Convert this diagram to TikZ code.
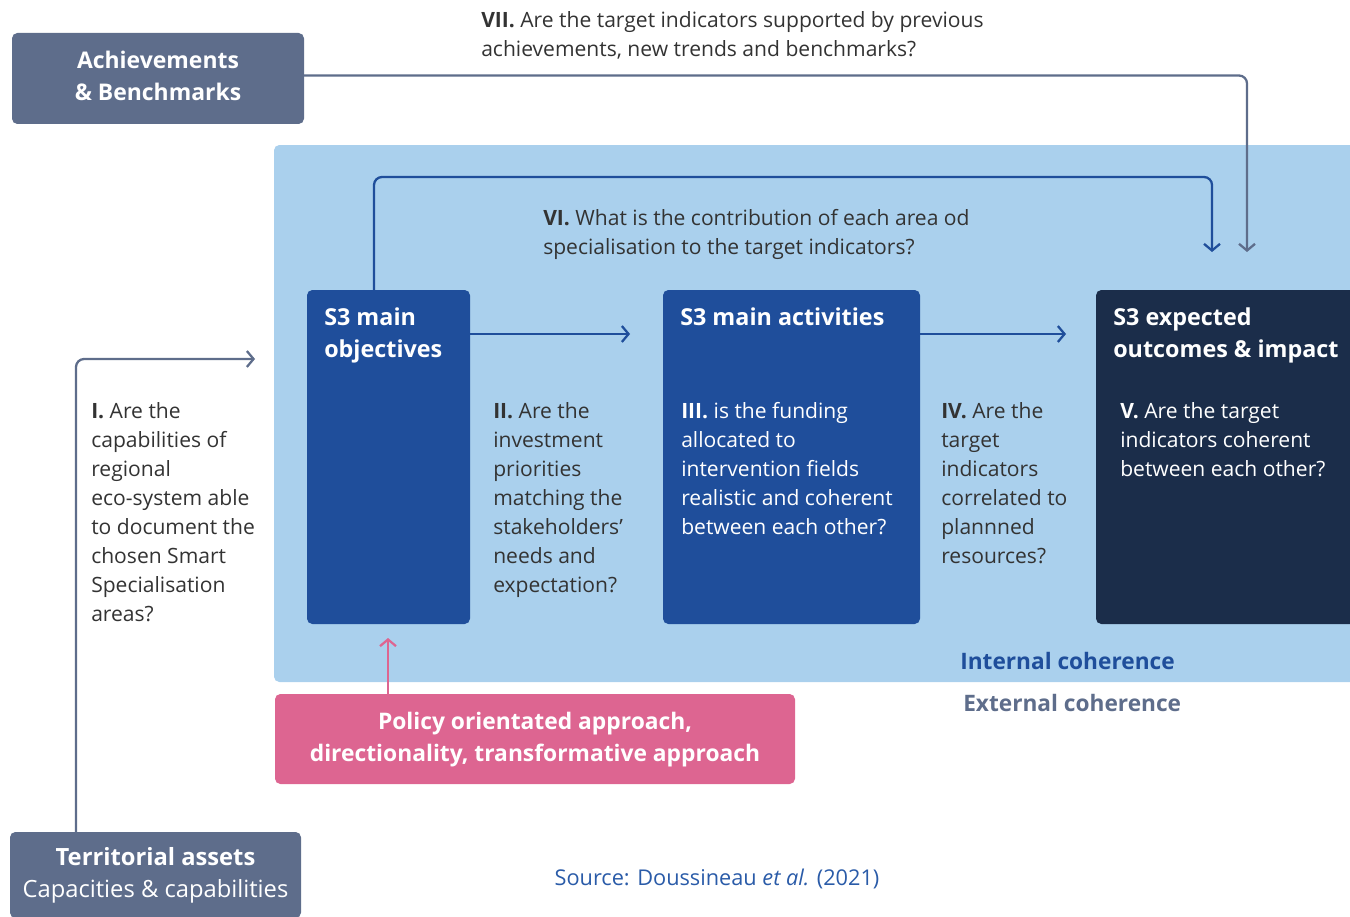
\documentclass[tikz,border=0pt]{standalone}
\usepackage{fontspec}
\setmainfont{Open Sans}
\usetikzlibrary{arrows.meta}
\definecolor{slate}{HTML}{5E6D8B}
\definecolor{lightbg}{HTML}{AAD0ED}
\definecolor{midblue}{HTML}{1F4E9B}
\definecolor{navy}{HTML}{1B2D4A}
\definecolor{pinkc}{HTML}{DD6591}
\definecolor{bodytxt}{HTML}{333333}
\definecolor{srcblue}{HTML}{2A5BA8}
\newcommand{\lines}[1]{\begin{tabular}[t]{@{}l@{}}#1\end{tabular}}
\newcommand{\clines}[1]{\begin{tabular}{@{}c@{}}#1\end{tabular}}
\tikzset{
  box/.style={anchor=north west, inner sep=0pt, outer sep=0pt, rounded corners=4pt},
  body/.style={anchor=base west, inner sep=0pt, text=bodytxt, font=\fontsize{15.8}{21.75}\selectfont},
  wbody/.style={body, text=white},
  title/.style={anchor=base west, inner sep=0pt, text=white, font=\fontsize{17.5}{24}\selectfont\bfseries},
  conn/.style={line width=1.7pt, rounded corners=6pt, -{Straight Barb[length=5pt,width=12pt]}},
}
\begin{document}
\begin{tikzpicture}[x=0.75pt,y=-0.75pt]
\useasboundingbox (0,0) rectangle (1350,917);
% background
\fill[lightbg, rounded corners=4pt] (274,145) rectangle (1380,682);
% boxes
\node[box, fill=slate, minimum width=219pt, minimum height=68.25pt, text=white,
      font=\fontsize{17.2}{24}\selectfont\bfseries] (ach) at (12,33)
      {\clines{Achievements\\\& Benchmarks}};
\node[box, fill=midblue, minimum width=122.25pt, minimum height=250.5pt] (obj) at (307,290) {};
\node[box, fill=midblue, minimum width=192.75pt, minimum height=250.5pt] (act) at (663,290) {};
\node[box, fill=navy, minimum width=210pt, minimum height=250.5pt] (out) at (1096,290) {};
\node[box, fill=pinkc, minimum width=390pt, minimum height=67.5pt, text=white,
      font=\fontsize{17.1}{24}\selectfont\bfseries] (pol) at (275,694)
      {\clines{Policy orientated approach,\\directionality, transformative approach}};
\node[box, fill=slate, minimum width=218.25pt, minimum height=64.5pt, text=white,
      font=\fontsize{17.8}{24}\selectfont] (ter) at (10,832)
      {\clines{\textbf{Territorial assets}\\Capacities \& capabilities}};
% titles
\node[title] (tobj) at (324,325) {\lines{S3 main\\objectives}};
\node[title] (tact) at (680,325) {\lines{S3 main activities}};
\node[title] (tout) at (1113,325) {\lines{S3 expected\\outcomes \& impact}};
% questions
\node[body] (q7) at (481,28) {\lines{\textbf{VII.} Are the target indicators supported by previous\\achievements, new trends and benchmarks?}};
\node[body] (q6) at (543,225) {\lines{\textbf{VI.} What is the contribution of each area od\\specialisation to the target indicators?}};
\node[body] (q1) at (91,418) {\lines{\textbf{I.} Are the\\capabilities of\\regional\\eco-system able\\to document the\\chosen Smart\\Specialisation\\areas?}};
\node[body] (q2) at (493,418) {\lines{\textbf{II.} Are the\\investment\\priorities\\matching the\\stakeholders’\\needs and\\expectation?}};
\node[wbody] (q3) at (681,418) {\lines{\textbf{III.} is the funding\\allocated to\\intervention fields\\realistic and coherent\\between each other?}};
\node[body] (q4) at (941,418) {\lines{\textbf{IV.} Are the\\target\\indicators\\correlated to\\plannned\\resources?}};
\node[wbody] (q5) at (1120,418) {\lines{\textbf{V.} Are the target\\indicators coherent\\between each other?}};
% coherence labels
\node[anchor=base west, inner sep=0pt, text=midblue, font=\fontsize{17}{20}\selectfont\bfseries] (intc) at (960,669) {Internal coherence};
\node[anchor=base west, inner sep=0pt, text=slate, font=\fontsize{17}{20}\selectfont\bfseries] (extc) at (963,711) {External coherence};
% source
\node[anchor=base, inner sep=0pt, text=srcblue, font=\fontsize{16.3}{20}\selectfont] (src) at (717,885) {Source: Doussineau \textit{et al.} (2021)};
% connectors
\coordinate (c7) at (1247,252);
\coordinate (c6) at (1212,252);
\coordinate (c1) at (255,359);
\draw[conn, slate] ([shift={(0,-3)}]ach.east) -| (c7);
\draw[conn, midblue] ([shift={(67,0)}]obj.north west) -- ++(0,-113) -| (c6);
\draw[conn, midblue] ([shift={(0,44)}]obj.north east) -- ([shift={(-33,44)}]act.north west);
\draw[conn, midblue] ([shift={(0,44)}]act.north east) -- ([shift={(-30,44)}]out.north west);
\draw[conn, pinkc] ([shift={(113,0)}]pol.north west) -- ([shift={(81,14)}]obj.south west);
\draw[conn, slate] ([shift={(66,0)}]ter.north west) |- (c1);
\end{tikzpicture}
\end{document}
